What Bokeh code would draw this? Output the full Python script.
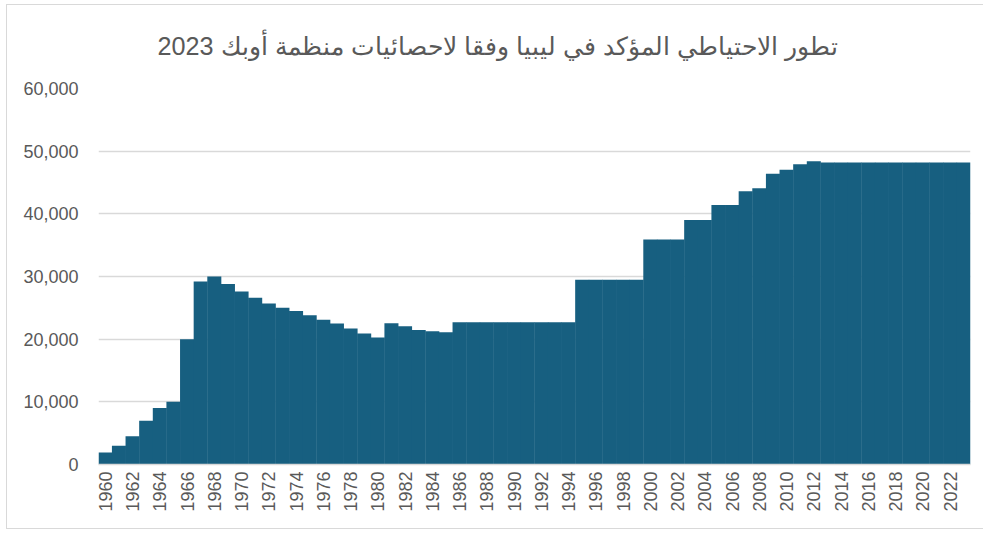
import numpy as np
from bokeh.plotting import figure
from bokeh.models import ColumnDataSource, FixedTicker, NumeralTickFormatter
from bokeh.embed import file_html
from bokeh.resources import INLINE

title_text = "تطور الاحتياطي المؤكد في ليبيا وفقا لاحصائيات منظمة أوبك 2023"

years = list(range(1960, 2024))
reserves = [
    1900, 3000, 4500, 7000, 9000, 10000, 20000, 29200, 30000, 28800,
    27600, 26600, 25700, 25000, 24500, 23800, 23100, 22500, 21700, 20900,
    20250, 22550, 22050, 21450, 21250, 21100, 22700, 22700, 22700, 22700,
    22700, 22700, 22700, 22700, 22700, 29500, 29500, 29500, 29500, 29500,
    35900, 35900, 35900, 39000, 39000, 41400, 41400, 43600, 44100, 46400,
    47050, 47900, 48400, 48200, 48200, 48200, 48200, 48200, 48200, 48200,
    48200, 48200, 48200, 48200,
]
y_ticks = [0, 10000, 20000, 30000, 40000, 50000, 60000]
x_ticks = list(range(1960, 2024, 2))

BAR = "#175F80"
TXT = "#595959"
GRID = "#d9d9d9"
FONT = "Liberation Sans"

src = ColumnDataSource(dict(year=years, value=reserves))

p = figure(
    width=977, height=525,
    x_range=(1959.5, 2023.5), y_range=(0, 60000),
    output_backend="svg", toolbar_location=None,
    min_border_left=91, min_border_right=14,
    min_border_top=83, min_border_bottom=66,
)
p.styles = {"border": "1px solid #d9d9d9", "border-right": "0px",
            "margin": "4px 0 0 6px"}

p.vbar(x="year", top="value", width=1.03, source=src,
       fill_color=BAR, line_color=None)

p.title.text = title_text
p.title.align = "left"
p.title.vertical_align = "top"
p.title.text_font = FONT
p.title.text_font_size = "25.2px"
p.title.text_font_style = "normal"
p.title.text_color = TXT
p.title.offset = 59
p.title.standoff = 53

p.outline_line_color = None
p.background_fill_color = "white"
p.border_fill_color = "white"

p.xgrid.grid_line_color = None
p.ygrid.grid_line_color = GRID
p.ygrid.grid_line_width = 1.3
p.ygrid.ticker = FixedTicker(ticks=y_ticks)

p.yaxis.ticker = FixedTicker(ticks=y_ticks)
p.yaxis.formatter = NumeralTickFormatter(format="0,0")
p.yaxis.axis_line_color = None
p.yaxis.major_tick_line_color = None
p.yaxis.major_tick_out = 0
p.yaxis.major_tick_in = 0
p.yaxis.minor_tick_line_color = None
p.yaxis.major_label_text_font = FONT
p.yaxis.major_label_text_font_size = "18px"
p.yaxis.major_label_text_color = TXT
p.yaxis.major_label_standoff = 20

p.xaxis.ticker = FixedTicker(ticks=x_ticks)
p.xaxis.major_label_orientation = np.pi / 2
p.xaxis.axis_line_color = GRID
p.xaxis.axis_line_width = 1.3
p.xaxis.major_tick_line_color = None
p.xaxis.major_tick_out = 0
p.xaxis.major_tick_in = 0
p.xaxis.minor_tick_line_color = None
p.xaxis.major_label_text_font = FONT
p.xaxis.major_label_text_font_size = "18px"
p.xaxis.major_label_text_color = TXT
p.xaxis.major_label_standoff = 7

open("out.html", "w").write(file_html(p, INLINE))
